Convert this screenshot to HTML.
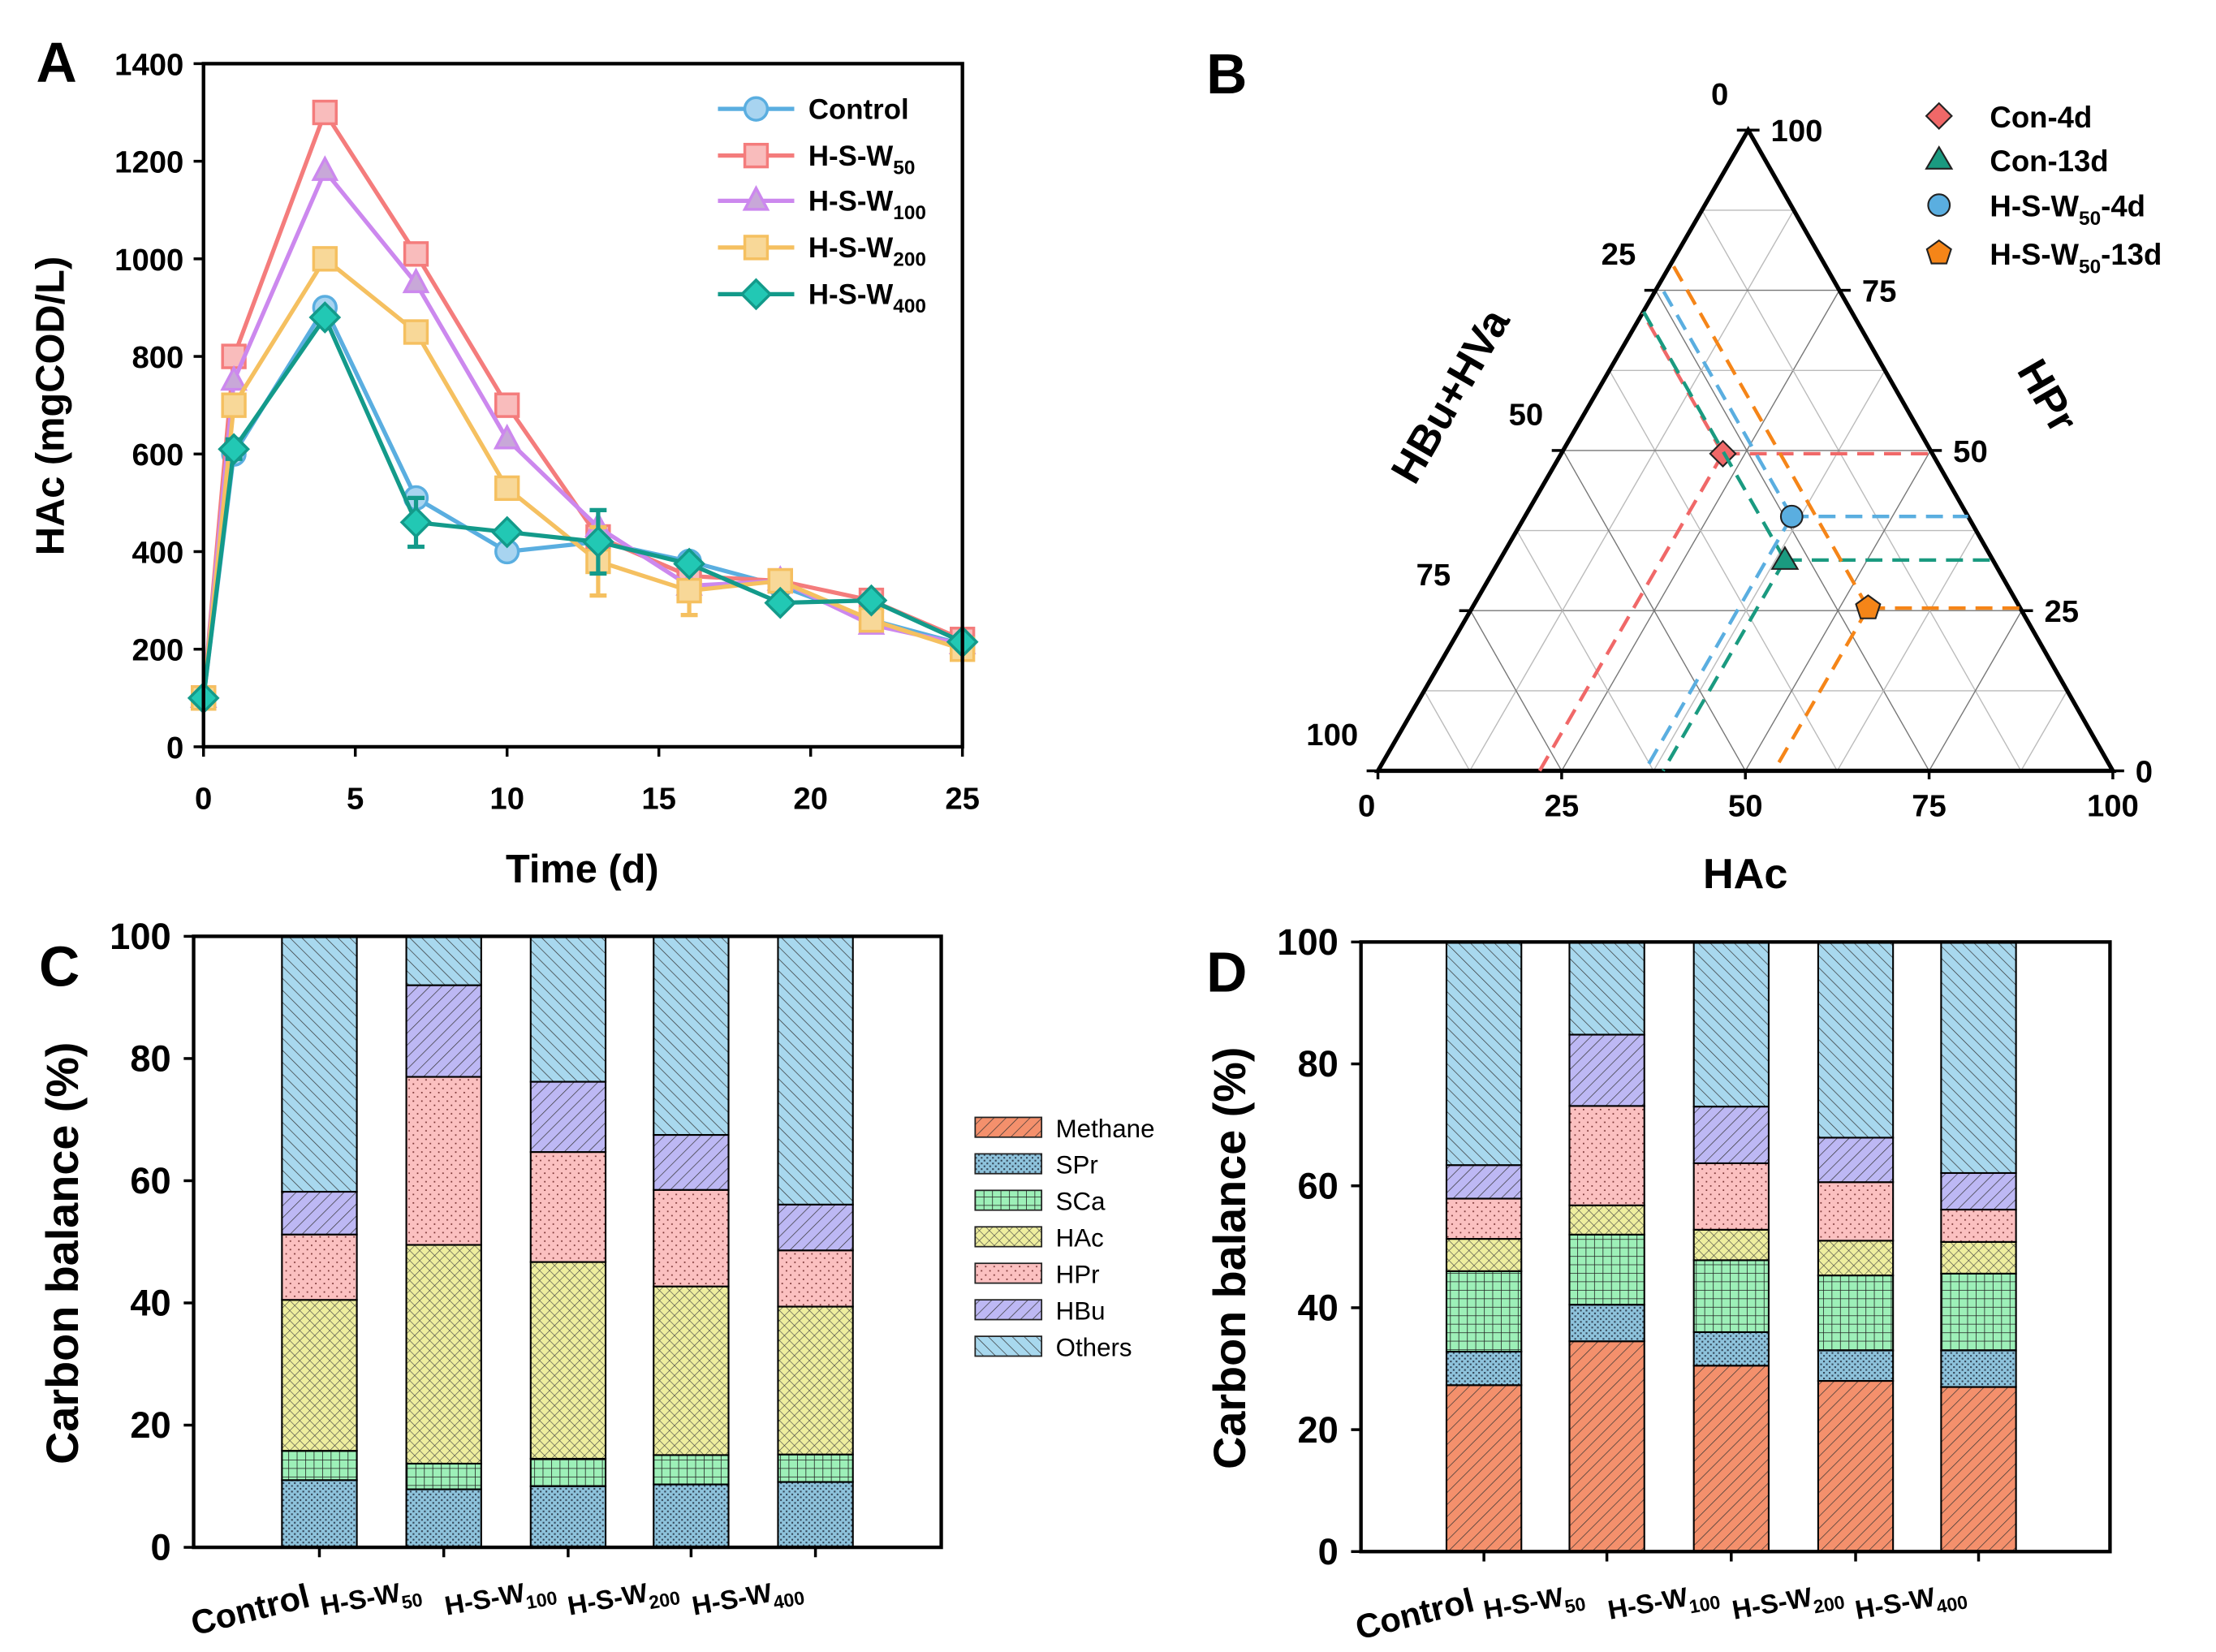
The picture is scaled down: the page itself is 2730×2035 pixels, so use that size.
<!DOCTYPE html>
<html><head><meta charset="utf-8"><style>
html,body{margin:0;padding:0;background:#fff}
svg{display:block;font-family:"Liberation Sans",Arial,sans-serif}
</style></head><body>
<svg id="fig" width="2730" height="2035" viewBox="0 0 1568 1168" preserveAspectRatio="none" xmlns="http://www.w3.org/2000/svg">
<defs>
<pattern id="p-meth" width="6" height="6" patternUnits="userSpaceOnUse" patternTransform="rotate(45)"><rect width="6" height="6" fill="#f4906c"/><line x1="0" y1="0" x2="0" y2="6" stroke="#333" stroke-width="0.8"/></pattern>
<pattern id="p-spr" width="4" height="4" patternUnits="userSpaceOnUse"><rect width="4" height="4" fill="#8ec3dc"/><rect x="0" y="0" width="1.2" height="1.2" fill="#345"/><rect x="2" y="2" width="1.2" height="1.2" fill="#345"/></pattern>
<pattern id="p-sca" width="6" height="6" patternUnits="userSpaceOnUse"><rect width="6" height="6" fill="#9df0b8"/><path d="M0 0H6M0 0V6" stroke="#222" stroke-width="0.9"/></pattern>
<pattern id="p-hac" width="5" height="5" patternUnits="userSpaceOnUse" patternTransform="rotate(45)"><rect width="5" height="5" fill="#eeee9e"/><path d="M0 0H5M0 0V5" stroke="#444" stroke-width="0.7"/></pattern>
<pattern id="p-hpr" width="6" height="6" patternUnits="userSpaceOnUse"><rect width="6" height="6" fill="#fbc0c0"/><rect x="1" y="1" width="1" height="1" fill="#733"/><rect x="4" y="4" width="1" height="1" fill="#733"/></pattern>
<pattern id="p-hbu" width="6" height="6" patternUnits="userSpaceOnUse" patternTransform="rotate(45)"><rect width="6" height="6" fill="#bdb8f4"/><line x1="0" y1="0" x2="0" y2="6" stroke="#333" stroke-width="0.8"/></pattern>
<pattern id="p-oth" width="6" height="6" patternUnits="userSpaceOnUse" patternTransform="rotate(-45)"><rect width="6" height="6" fill="#a8d8ee"/><line x1="0" y1="0" x2="0" y2="6" stroke="#333" stroke-width="0.8"/></pattern>
</defs>
</svg>
<script>
// ---------- Panel A data ----------
const days = [0,1,4,7,10,13,16,19,22,25];
const seriesNames = ["Control","H-S-W50","H-S-W100","H-S-W200","H-S-W400"];
const hacControl = [100,600,900,510,400,420,380,330,260,210];
const hacW50 = [100,800,1300,1010,700,430,350,340,300,220];
const hacW100 = [100,750,1180,950,630,450,330,340,250,210];
const hacW200 = [100,700,1000,850,530,380,320,340,260,200];
const hacW400 = [100,610,880,460,440,420,375,295,300,215];
const errW200 = [0,0,0,0,0,70,50,0,0,0];
const errW400 = [0,20,0,50,0,65,0,0,0,0];
const yTicksA = [0,200,400,600,800,1000,1200,1400];
const xTicksA = [0,5,10,15,20,25];
// ---------- Panel B data (HAc, HPr, HBu+HVa) ----------
const ternNames = ["Con-4d","Con-13d","H-S-W50-4d","H-S-W50-13d"];
const ternHAc = [22,38.8,36.3,53.9];
const ternHPr = [49.5,32.9,39.7,25.4];
const ternTicks = [0,25,50,75,100];
// ---------- Panel C/D data ----------
const groups = ["Control","H-S-W50","H-S-W100","H-S-W200","H-S-W400"];
const compNames = ["Methane","SPr","SCa","HAc","HPr","HBu","Others"];
const cMethane=[0,0,0,0,0], cSPr=[11,9.5,10,10.3,10.7], cSCa=[4.8,4.2,4.5,4.8,4.5], cHAc=[24.7,35.8,32.2,27.6,24.2], cHPr=[10.7,27.5,18,15.8,9.2], cHBu=[7,15,11.5,9,7.5];
const dMethane=[27.3,34.5,30.5,28,27], dSPr=[5.5,6,5.5,5,6], dSCa=[13.2,11.5,11.8,12.3,12.6], dHAc=[5.3,4.8,5,5.7,5.2], dHPr=[6.6,16.3,10.9,9.6,5.3], dHBu=[5.5,11.7,9.3,7.3,6];
const yTicksBar=[0,20,40,60,80,100];

const NS="http://www.w3.org/2000/svg";
const svg=document.getElementById('fig');
function el(tag,attrs,parent,text){const e=document.createElementNS(NS,tag);for(const k in attrs)e.setAttribute(k,attrs[k]);if(text!==undefined)e.textContent=text;(parent||svg).appendChild(e);return e;}
function grp(name){const g=el('g',{});return g;}
function label(g,x,y,txt,size,anchor,extra){const t=el('text',Object.assign({x:x,y:y,'font-size':size,'font-weight':'bold','text-anchor':anchor||'middle',fill:'#000'},extra||{}),g,txt);return t;}
function subLabel(g,x,y,base,sub,size,anchor,extra){const t=el('text',Object.assign({x:x,y:y,'font-size':size,'font-weight':'bold','text-anchor':anchor||'start',fill:'#000'},extra||{}),g);el('tspan',{},t,base);el('tspan',{'font-size':size*0.7,dy:size*0.3},t,sub);return t;}

// ================= Panel A =================
(function(){
 const g=grp('panel-a-line-chart');
 const L=144,R=681,T=45,B=528;
 const xs=v=>L+v/25*(R-L), ys=v=>B-v/1400*(B-T);
 label(g,40,58,'A',40,'middle');
 const cols=[["#5aaee0","#a8d4f0"],["#f47c7c","#f9bcbc"],["#cc88ee","#c8a8d8"],["#f5c060","#f8d898"],["#139a8a","#22c8b4"]];
 const data=[hacControl,hacW50,hacW100,hacW200,hacW400];
 const errs=[null,null,null,errW200,errW400];
 const shapes=['circle','square','triangle','square','diamond'];
 function marker(par,shape,x,y,c,s){
  if(shape==='circle')return el('circle',{cx:x,cy:y,r:s,fill:c[1],stroke:c[0],'stroke-width':2},par);
  if(shape==='square')return el('rect',{x:x-s,y:y-s,width:2*s,height:2*s,fill:c[1],stroke:c[0],'stroke-width':2},par);
  if(shape==='triangle')return el('polygon',{points:`${x},${y-s-1} ${x-s},${y+s-2} ${x+s},${y+s-2}`,fill:c[1],stroke:c[0],'stroke-width':2},par);
  return el('polygon',{points:`${x},${y-s-2} ${x+s+2},${y} ${x},${y+s+2} ${x-s-2},${y}`,fill:c[1],stroke:c[0],'stroke-width':2},par);
 }
 data.forEach((d,i)=>{
  const sg=el('g',{},g);
  
  
  if(errs[i])errs[i].forEach((e,j)=>{if(e>0){const x=xs(days[j]);el('path',{d:`M${x},${ys(d[j]-e)}V${ys(d[j]+e)}M${x-6},${ys(d[j]-e)}H${x+6}M${x-6},${ys(d[j]+e)}H${x+6}`,stroke:cols[i][0],'stroke-width':3,fill:'none'},sg);}});
  el('polyline',{points:d.map((v,j)=>xs(days[j])+','+ys(v)).join(' '),fill:'none',stroke:cols[i][0],'stroke-width':3},sg);
  d.forEach((v,j)=>{const m=marker(sg,shapes[i],xs(days[j]),ys(v),cols[i],8);
   
   });
 });
 el('rect',{x:L,y:T,width:R-L,height:B-T,fill:'none',stroke:'#000','stroke-width':2.5},g);
 yTicksA.forEach(v=>{el('line',{x1:L-7,x2:L,y1:ys(v),y2:ys(v),stroke:'#000','stroke-width':2},g);label(g,L-14,ys(v)+8,String(v),22,'end');});
 xTicksA.forEach(v=>{el('line',{x1:xs(v),x2:xs(v),y1:B,y2:B+7,stroke:'#000','stroke-width':2},g);label(g,xs(v),B+44,String(v),22,'middle');});
 const xt=label(g,412,624,'Time (d)',28,'middle');
 
 const yt=label(g,0,0,'HAc (mgCOD/L)',28,'middle',{transform:'translate(45,287) rotate(-90)'});
 
 const lg=el('g',{},g);
 const subs=['','50','100','200','400'];
 [77,110,142,175,208].forEach((y,i)=>{
  el('line',{x1:508,x2:562,y1:y,y2:y,stroke:cols[i][0],'stroke-width':3},lg);
  marker(lg,shapes[i],535,y,cols[i],8);
  if(i===0)label(lg,572,y+7,'Control',20,'start');else subLabel(lg,572,y+7,'H-S-W',subs[i],20,'start');
 });
})();

// ================= Panel B =================
(function(){
 const g=grp('panel-b-ternary');
 const BL=[975,545],BR=[1495,545],TP=[1237,92];
 const P=(a,p)=>{const b=100-a-p;return [(b*BL[0]+a*BR[0]+p*TP[0])/100,(b*BL[1]+a*BR[1]+p*TP[1])/100];};
 label(g,868,66,'B',40,'middle');
 for(let k=12.5;k<100;k+=12.5){
  const c=(k%25===0)?'#777':'#bbb';
  let a1=P(k,0),a2=P(k,100-k);el('line',{x1:a1[0],y1:a1[1],x2:a2[0],y2:a2[1],stroke:c,'stroke-width':0.8},g);
  a1=P(0,k);a2=P(100-k,k);el('line',{x1:a1[0],y1:a1[1],x2:a2[0],y2:a2[1],stroke:c,'stroke-width':0.8},g);
  a1=P(0,100-k);a2=P(100-k,0);el('line',{x1:a1[0],y1:a1[1],x2:a2[0],y2:a2[1],stroke:c,'stroke-width':0.8},g);
 }
 el('polygon',{points:[BL,BR,TP].map(p=>p.join(',')).join(' '),fill:'none',stroke:'#000','stroke-width':3},g);
 ternTicks.forEach(v=>{
  let p=P(v,0);el('line',{x1:p[0],y1:p[1],x2:p[0],y2:p[1]+6,stroke:'#000','stroke-width':2},g);label(g,p[0]-(v===0?8:0),p[1]+32,String(v),22,'middle');
  p=P(100-v,v);el('line',{x1:p[0],y1:p[1],x2:p[0]+8,y2:p[1],stroke:'#000','stroke-width':2},g);label(g,p[0]+16,p[1]+8,String(v),22,'start');
  p=P(0,100-v);el('line',{x1:p[0]-8,y1:p[1],x2:p[0],y2:p[1],stroke:'#000','stroke-width':2},g);label(g,p[0]-14,p[1]-18,String(v),22,'end');
 });
 label(g,1235,628,'HAc',30,'middle');
 label(g,0,0,'HBu+HVa',30,'middle',{transform:'translate(1035,285) rotate(-60)'});
 label(g,1440,285,'HPr',30,'middle',{transform:'rotate(60 1440 285)'});
 const cols=['#f06868','#1a9a80','#5aaee0','#f58518'];
 function mk(par,i,x,y,s){
  if(i===0)return el('polygon',{points:`${x},${y-s} ${x+s},${y} ${x},${y+s} ${x-s},${y}`,fill:cols[0],stroke:'#222','stroke-width':1.2},par);
  if(i===1)return el('polygon',{points:`${x},${y-s} ${x+s},${y+s*0.7} ${x-s},${y+s*0.7}`,fill:cols[1],stroke:'#222','stroke-width':1.2},par);
  if(i===2)return el('circle',{cx:x,cy:y,r:s*0.85,fill:cols[2],stroke:'#222','stroke-width':1.2},par);
  let pts=[];for(let k=0;k<5;k++){const an=-Math.PI/2+k*2*Math.PI/5;pts.push((x+s*Math.cos(an))+','+(y+s*Math.sin(an)));}
  return el('polygon',{points:pts.join(' '),fill:cols[3],stroke:'#222','stroke-width':1.2},par);
 }
 ternHAc.forEach((a,i)=>{
  const p=ternHPr[i],b=100-a-p;const pt=P(a,p);
  const sg=el('g',{},g);
  
  
  const q1=P(a,0),q2=P(100-p,p),q3=P(0,100-b);
  [q1,q2,q3].forEach(q=>el('line',{x1:pt[0],y1:pt[1],x2:q[0],y2:q[1],stroke:cols[i],'stroke-width':2.5,'stroke-dasharray':'12,7'},sg));
  mk(sg,i,pt[0],pt[1],9);
 });
 const lg=el('g',{},g);
 [82,113,145,179].forEach((y,i)=>{mk(lg,i,1372,y,9);
  if(i<2)label(lg,1408,y+8,ternNames[i],21,'start');
  else{const t=el('text',{x:1408,y:y+8,'font-size':21,'font-weight':'bold'},lg);el('tspan',{},t,'H-S-W');el('tspan',{'font-size':14,dy:6},t,'50');el('tspan',{dy:-6},t,i===2?'-4d':'-13d');}
 });
})();

// ================= Panels C & D =================
function barPanel(name,letter,L,R,T,B,centers,series,showLegend,lx){
 const g=grp(name);
 const ys=v=>B-v/100*(B-T);
 const pats=['p-meth','p-spr','p-sca','p-hac','p-hpr','p-hbu','p-oth'];
 label(g,L-95,T+35,letter,40,'middle');
 groups.forEach((grpName,gi)=>{
  let acc=0;const bw=53,x=centers[gi]-bw/2;
  const vals=series.map(s=>s[gi]);vals.push(100-vals.reduce((a,b)=>a+b,0));
  vals.forEach((v,si)=>{if(v<=0)return;
   const r=el('rect',{x:x,y:ys(acc+v),width:bw,height:ys(acc)-ys(acc+v),fill:'url(#'+pats[si]+')',stroke:'#000','stroke-width':1.2},g);
   
   
   acc+=v;});
 });
 el('rect',{x:L,y:T,width:R-L,height:B-T,fill:'none',stroke:'#000','stroke-width':2.5},g);
 yTicksBar.forEach(v=>{el('line',{x1:L-7,x2:L,y1:ys(v),y2:ys(v),stroke:'#000','stroke-width':2},g);label(g,L-16,ys(v)+9,String(v),26,'end');});
 const subs=['','50','100','200','400'];
 centers.forEach((c,i)=>{el('line',{x1:c,x2:c,y1:B,y2:B+7,stroke:'#000','stroke-width':2},g);
  if(i===0)label(g,c-47,B+52,'Control',24,'middle',{transform:`rotate(-14 ${c-47} ${B+52})`});
  else subLabel(g,c-86,B+48,'H-S-W',subs[i],19,'start',{transform:`rotate(-10 ${c-86} ${B+48})`});
 });
 const yt=label(g,0,0,'Carbon balance (%)',32,'middle',{transform:`translate(${L-82},${(T+B)/2+8}) rotate(-90)`});
 
 if(showLegend){const lg=el('g',{},g);
  compNames.forEach((n,i)=>{const y=797+i*25.8;el('rect',{x:lx,y:y-7,width:47,height:14,fill:'url(#'+pats[i]+')',stroke:'#222','stroke-width':1},lg);label(lg,lx+57,y+7,n,18,'start',{'font-weight':'normal'});});}
}
barPanel('panel-c-bar-chart','C',137,666,662,1094,[226,314,402,489,577],[cMethane,cSPr,cSCa,cHAc,cHPr,cHBu],true,690);
barPanel('panel-d-bar-chart','D',963,1493,666,1097,[1050,1137,1225,1313,1400],[dMethane,dSPr,dSCa,dHAc,dHPr,dHBu],false,0);
</script>
</body></html>
